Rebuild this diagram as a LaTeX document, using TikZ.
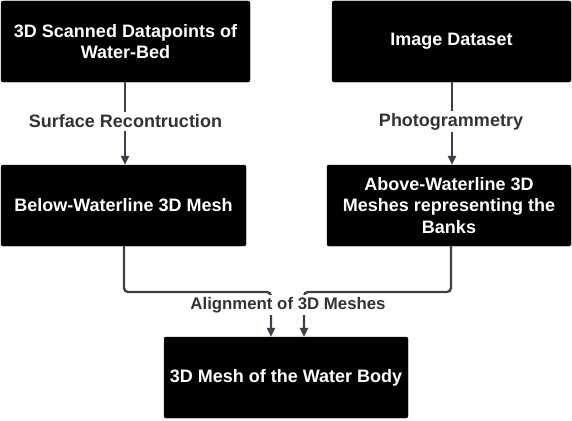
\documentclass[tikz,border=0pt]{standalone}
\usepackage{fontspec}
\setmainfont{Liberation Sans}
\usetikzlibrary{arrows.meta}
\definecolor{linec}{HTML}{3A414A}
\definecolor{labc}{HTML}{333333}
\tikzset{
  box/.style={draw=black, fill=black, rounded corners=2pt, text=white, align=center,
    font=\fontsize{18}{21.5}\selectfont\bfseries, inner sep=0pt, minimum height=81pt},
  conn/.style={draw=linec, line width=2.3pt, rounded corners=4pt, -{Triangle[width=8pt,length=9pt]}},
  lab/.style={fill=white, text=labc, font=\fontsize{18}{21.5}\selectfont\bfseries, inner sep=2.5pt}
}
\begin{document}
\begin{tikzpicture}[x=1pt,y=-1pt]
\useasboundingbox (0,0) rectangle (572,420);
\node[box, minimum width=249pt] (b1) at (125.5,41.5) {3D Scanned Datapoints of\\Water-Bed};
\node[box, minimum width=239pt] (b2) at (451.5,41.5) {Image Dataset};
\node[box, minimum width=245pt] (b3) at (123.5,205.5) {Below-Waterline 3D Mesh};
\node[box, minimum width=244pt] (b4) at (449,205.5) {Above-Waterline 3D\\Meshes representing the\\Banks};
\node[box, minimum width=244pt] (b5) at (286,377.5) {3D Mesh of the Water Body};
\coordinate (t1) at (125,0);
\coordinate (t2) at (452,0);
\coordinate (j1) at (271,292);
\coordinate (j2) at (304,292);
\draw[conn] (t1 |- b1.south) -- (t1 |- b3.north);
\draw[conn] (t2 |- b2.south) -- (t2 |- b4.north);
\draw[conn] (b3.south -| 124,0) |- (j1) -- (j1 |- b5.north);
\draw[conn] (b4.south -| 451,0) |- (j2) -- (j2 |- b5.north);
\node[lab] (l1) at (125.5,121.5) {Surface Recontruction};
\node[lab] (l2) at (451,121.5) {Photogrammetry};
\node[lab, font=\fontsize{16.8}{20}\selectfont\bfseries, inner sep=2pt] (l3) at (288,305) {Alignment of 3D Meshes};
\end{tikzpicture}
\end{document}
